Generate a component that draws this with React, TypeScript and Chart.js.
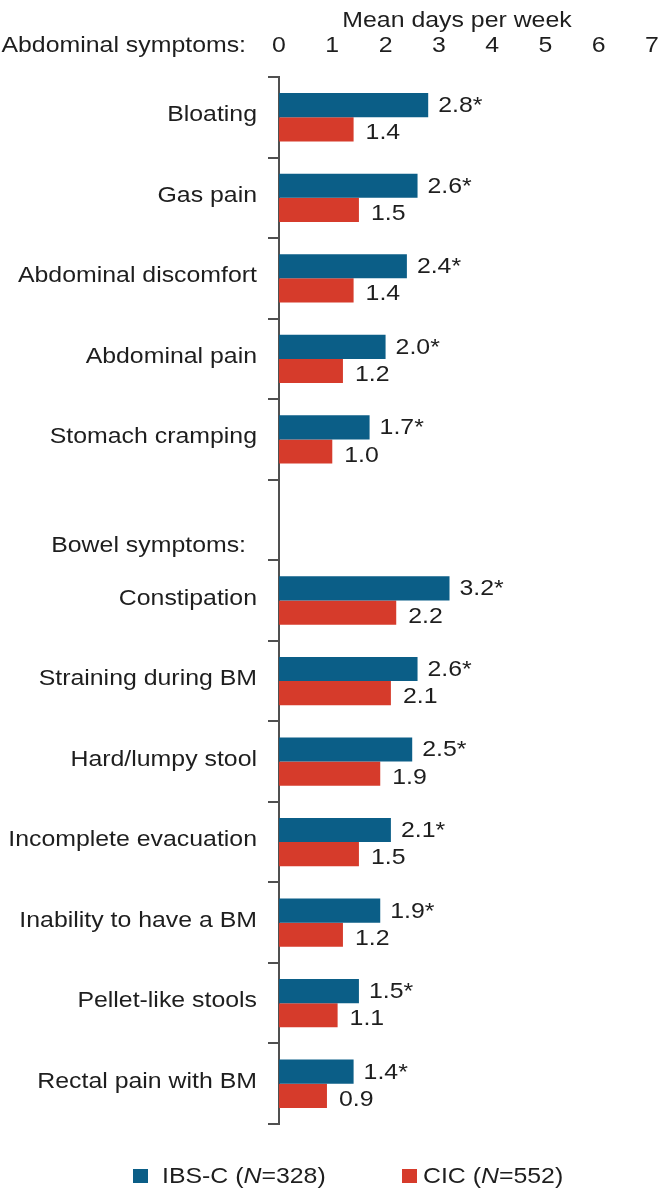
import React, { useEffect, useRef } from 'react';
import { Chart, registerables } from 'chart.js';

Chart.register(...registerables);

const categories = [
  'Bloating',
  'Gas pain',
  'Abdominal discomfort',
  'Abdominal pain',
  'Stomach cramping',
  '',
  'Constipation',
  'Straining during BM',
  'Hard/lumpy stool',
  'Incomplete evacuation',
  'Inability to have a BM',
  'Pellet-like stools',
  'Rectal pain with BM',
];
const ibscValues = [2.8, 2.6, 2.4, 2.0, 1.7, null, 3.2, 2.6, 2.5, 2.1, 1.9, 1.5, 1.4];
const cicValues = [1.4, 1.5, 1.4, 1.2, 1.0, null, 2.2, 2.1, 1.9, 1.5, 1.2, 1.1, 0.9];
const ibscLabels = ['2.8*', '2.6*', '2.4*', '2.0*', '1.7*', '', '3.2*', '2.6*', '2.5*', '2.1*', '1.9*', '1.5*', '1.4*'];
const cicLabels = ['1.4', '1.5', '1.4', '1.2', '1.0', '', '2.2', '2.1', '1.9', '1.5', '1.2', '1.1', '0.9'];
const xTickValues = [0, 1, 2, 3, 4, 5, 6, 7];
const groupHeaders = ['Abdominal symptoms:', 'Bowel symptoms:'];
const axisTitle = 'Mean days per week';
const seriesNames = ['IBS-C', 'CIC'];
const seriesN = ['328', '552'];

const BLUE = '#0b5e87';
const RED = '#d63b2b';
const TEXT = '#1e1e1e';
const AXIS = '#505050';
const FONT_FAMILY = '"Liberation Sans", Arial, Helvetica, sans-serif';
const FONT_SIZE = 22;
const SX = 1.13;

function drawText(
  ctx: CanvasRenderingContext2D,
  text: string,
  x: number,
  y: number,
  align: 'left' | 'right' | 'center',
  italic = false
) {
  ctx.save();
  ctx.font = `${italic ? 'italic ' : ''}${FONT_SIZE}px ${FONT_FAMILY}`;
  const w = ctx.measureText(text).width * SX;
  const left = align === 'right' ? x - w : align === 'center' ? x - w / 2 : x;
  ctx.translate(left, y);
  ctx.scale(SX, 1);
  ctx.textAlign = 'left';
  ctx.textBaseline = 'alphabetic';
  ctx.fillStyle = TEXT;
  ctx.fillText(text, 0, 0);
  ctx.restore();
  return w;
}

const textPlugin = {
  id: 'textPlugin',
  afterDraw(chart: any) {
    const ctx: CanvasRenderingContext2D = chart.ctx;
    const xs = chart.scales.x;
    const ys = chart.scales.y;
    const area = chart.chartArea;

    // axis title
    drawText(ctx, axisTitle, 457, 27, 'center');
    // x tick labels
    xTickValues.forEach((v) => {
      drawText(ctx, String(v), xs.getPixelForValue(v), 52, 'center');
    });
    // group headers
    drawText(ctx, groupHeaders[0], 246, 52, 'right');
    const gapIndex = categories.indexOf('');
    const slot = (area.bottom - area.top) / categories.length;
    const gapBottom = area.top + slot * (gapIndex + 1);
    drawText(ctx, groupHeaders[1], 246, gapBottom - 8, 'right');

    // category labels
    categories.forEach((c, i) => {
      if (!c) return;
      drawText(ctx, c, 257, ys.getPixelForValue(i) + 4, 'right');
    });

    // value labels
    const m0 = chart.getDatasetMeta(0);
    const m1 = chart.getDatasetMeta(1);
    categories.forEach((c, i) => {
      if (ibscValues[i] != null) {
        const el = m0.data[i];
        drawText(ctx, ibscLabels[i], el.x + 10, el.y + 7, 'left');
      }
      if (cicValues[i] != null) {
        const el = m1.data[i];
        drawText(ctx, cicLabels[i], el.x + 12, el.y + 10, 'left');
      }
    });

    // legend
    const legendItems = [
      { x: 133, tx: 162, color: BLUE, name: seriesNames[0], n: seriesN[0] },
      { x: 402, tx: 423, color: RED, name: seriesNames[1], n: seriesN[1] },
    ];
    const ly = 1183;
    legendItems.forEach((it) => {
      ctx.save();
      ctx.fillStyle = it.color;
      ctx.fillRect(it.x, ly - 14, 15, 14);
      ctx.restore();
      let tx = it.tx;
      tx += drawText(ctx, `${it.name} (`, tx, ly, 'left');
      tx += drawText(ctx, 'N', tx, ly, 'left', true);
      drawText(ctx, `=${it.n})`, tx, ly, 'left');
    });
  },
};

export default function App() {
  const canvasRef = useRef<HTMLCanvasElement | null>(null);

  useEffect(() => {
    document.body.style.margin = '0';
    const canvas = canvasRef.current;
    if (!canvas) return;
    const chart = new Chart(canvas, {
      type: 'bar',
      data: {
        labels: categories,
        datasets: [
          {
            label: seriesNames[0],
            data: ibscValues,
            backgroundColor: BLUE,
            borderWidth: 0,
            barPercentage: 1,
            categoryPercentage: 0.6,
          },
          {
            label: seriesNames[1],
            data: cicValues,
            backgroundColor: RED,
            borderWidth: 0,
            barPercentage: 1,
            categoryPercentage: 0.6,
          },
        ],
      },
      options: {
        indexAxis: 'y',
        responsive: false,
        animation: false,
        devicePixelRatio: 1,
        layout: { padding: { left: 0, right: 8, top: 0, bottom: 67 } },
        plugins: {
          legend: { display: false },
          tooltip: { enabled: false },
          title: { display: false },
        },
        scales: {
          x: {
            position: 'top',
            min: 0,
            max: 7,
            ticks: { display: false, stepSize: 1 },
            grid: { display: false },
            border: { display: false },
            afterFit: (scale: any) => {
              scale.height = 77;
            },
          },
          y: {
            type: 'category',
            offset: true,
            ticks: { display: false },
            grid: {
              display: true,
              drawOnChartArea: false,
              drawTicks: true,
              offset: true,
              tickLength: 11,
              color: AXIS,
              lineWidth: 2,
            },
            border: { display: true, color: AXIS, width: 2 },
            afterFit: (scale: any) => {
              scale.width = 279;
            },
          },
        },
      },
      plugins: [textPlugin],
    });
    return () => chart.destroy();
  }, []);

  return (
    <div style={{ width: 660, height: 1191 }}>
      <canvas ref={canvasRef} width={660} height={1191} style={{ display: 'block' }} />
    </div>
  );
}
